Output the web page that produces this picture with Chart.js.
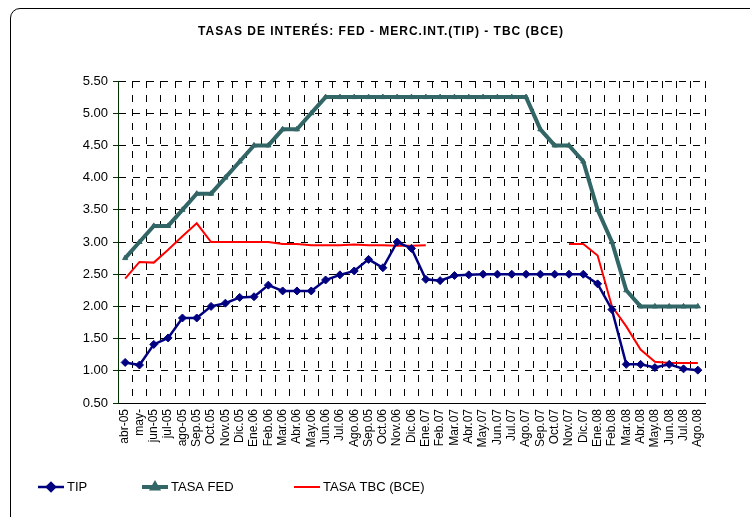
<!DOCTYPE html>
<html>
<head>
<meta charset="utf-8">
<script src="https://cdn.jsdelivr.net/npm/chart.js@4/dist/chart.umd.min.js"></script>
<style>
  body { margin: 0; background: #fff; }
  #wrap { position: relative; width: 750px; height: 517px; overflow: hidden; }
  #marco { position: absolute; left: 10px; top: 8px; width: 770px; height: 520px;
           border: 1px solid #000; border-radius: 10px; box-sizing: border-box; }
  canvas { position: absolute; left: 0; top: 0; }
</style>
</head>
<body>
<div id="wrap">
  <div id="marco"></div>
  <canvas id="grafico" width="750" height="517"></canvas>
</div>
<script>
// ---- datos ----
const meses = ['abr-05','may-','jun-05','jul-05','ago-05','Sep.05','Oct.05','Nov.05','Dic.05',
  'Ene.06','Feb.06','Mar.06','Abr.06','May.06','Jun.06','Jul.06','Ago.06','Sep.05','Oct.06','Nov.06','Dic.06',
  'Ene.07','Feb.07','Mar.07','Abr.07','May.07','Jun.07','Jul.07','Ago.07','Sep.07','Oct.07','Nov.07','Dic.07',
  'Ene.08','Feb.08','Mar.08','Abr.08','May.08','Jun.08','Jul.08','Ago.08'];

const tip = [1.13,1.09,1.41,1.51,1.82,1.82,2.00,2.05,2.14,2.15,
  2.33,2.24,2.24,2.24,2.41,2.49,2.55,2.73,2.60,3.00,2.90,
  2.42,2.40,2.48,2.49,2.50,2.50,2.50,2.50,2.50,2.50,2.50,2.50,
  2.35,1.95,1.10,1.10,1.05,1.10,1.03,1.01];

const tasaFed = [2.75,3.00,3.25,3.25,3.50,3.75,3.75,4.00,4.25,4.50,4.50,4.75,4.75,5.00,
  5.25,5.25,5.25,5.25,5.25,5.25,5.25,5.25,5.25,5.25,5.25,5.25,5.25,5.25,5.25,
  4.75,4.50,4.50,4.25,3.50,3.00,2.25,2.00,2.00,2.00,2.00,2.00];

const tasaTbc = [2.43,2.69,2.68,2.88,3.09,3.29,3.00,3.00,3.00,3.00,3.00,
  2.97,2.97,2.95,2.95,2.95,2.96,2.95,2.95,2.94,2.94,2.95,
  null,null,null,null,null,null,null,null,null,
  2.97,2.97,2.79,2.00,1.69,1.33,1.14,1.12,1.12,1.12];

const nombres = ['TIP', 'TASA FED', 'TASA TBC (BCE)'];
const titulo = 'TASAS DE INTERÉS: FED - MERC.INT.(TIP) - TBC (BCE)';

// ---- titulo y leyenda dibujados a mano ----
const leyendaX = [38, 142, 294];
const extras = {
  id: 'extras',
  afterDraw(chart) {
    const ctx = chart.ctx;
    ctx.save();
    ctx.fillStyle = '#000';
    ctx.font = 'bold 12px "Liberation Sans", Arial, sans-serif';
    ctx.letterSpacing = '1px';
    ctx.textAlign = 'center';
    ctx.textBaseline = 'middle';
    ctx.fillText(titulo, 381, 32);
    ctx.letterSpacing = '0px';

    chart.data.datasets.forEach((ds, i) => {
      const x = leyendaX[i], y = 487;
      ctx.strokeStyle = ds.borderColor;
      ctx.lineWidth = ds.borderWidth;
      ctx.beginPath();
      ctx.moveTo(x, y);
      ctx.lineTo(x + 26, y);
      ctx.stroke();
      if (ds.pointRadius > 0) {
        ctx.fillStyle = ds.borderColor;
        Chart.helpers.drawPoint(ctx, {
          pointStyle: ds.pointStyle, radius: ds.pointRadius, rotation: 0,
          borderWidth: 1
        }, x + 13, y);
      }
      ctx.fillStyle = '#000';
      ctx.font = '13px "Liberation Sans", Arial, sans-serif';
      ctx.textAlign = 'left';
      ctx.fillText(ds.label, x + 29, y);
    });
    ctx.restore();
  }
};

const ctx = document.getElementById('grafico').getContext('2d');
new Chart(ctx, {
  type: 'line',
  data: {
    labels: meses,
    datasets: [
      { label: nombres[0], data: tip, borderColor: '#000080', backgroundColor: '#000080',
        borderWidth: 2.5, pointStyle: 'rectRot', pointRadius: 4, pointBorderWidth: 1 },
      { label: nombres[1], data: tasaFed, borderColor: '#336666', backgroundColor: '#336666',
        borderWidth: 4, pointStyle: 'triangle', pointRadius: 3, pointBorderWidth: 1 },
      { label: nombres[2], data: tasaTbc, borderColor: '#FF0000', backgroundColor: '#FF0000',
        borderWidth: 2, pointRadius: 0, spanGaps: false }
    ]
  },
  options: {
    responsive: false,
    animation: false,
    layout: { padding: { left: 0, top: 81, right: 45, bottom: 0 } },
    plugins: {
      legend: { display: false },
      title: { display: false },
      tooltip: { enabled: false }
    },
    scales: {
      x: {
        offset: true,
        grid: { offset: true, color: '#000', lineWidth: 1, drawTicks: false },
        border: { color: '#000', width: 1, dash: [7, 7] },
        ticks: {
          autoSkip: false, maxRotation: 90, minRotation: 90, padding: 6,
          color: '#000', font: { family: '"Liberation Sans", Arial, sans-serif', size: 12 }
        },
        afterFit(scale) { scale.height = 114; }
      },
      y: {
        min: 0.5, max: 5.5,
        grid: { color: '#000', lineWidth: 1, tickLength: 5, tickColor: '#003300' },
        border: { color: '#003300', width: 1, dash: [7, 7] },
        ticks: {
          stepSize: 0.5, padding: 5, color: '#000',
          font: { family: '"Liberation Sans", Arial, sans-serif', size: 13 },
          callback: v => v.toFixed(2)
        },
        afterFit(scale) { scale.width = 118; }
      }
    }
  },
  plugins: [extras]
});
</script>
</body>
</html>
